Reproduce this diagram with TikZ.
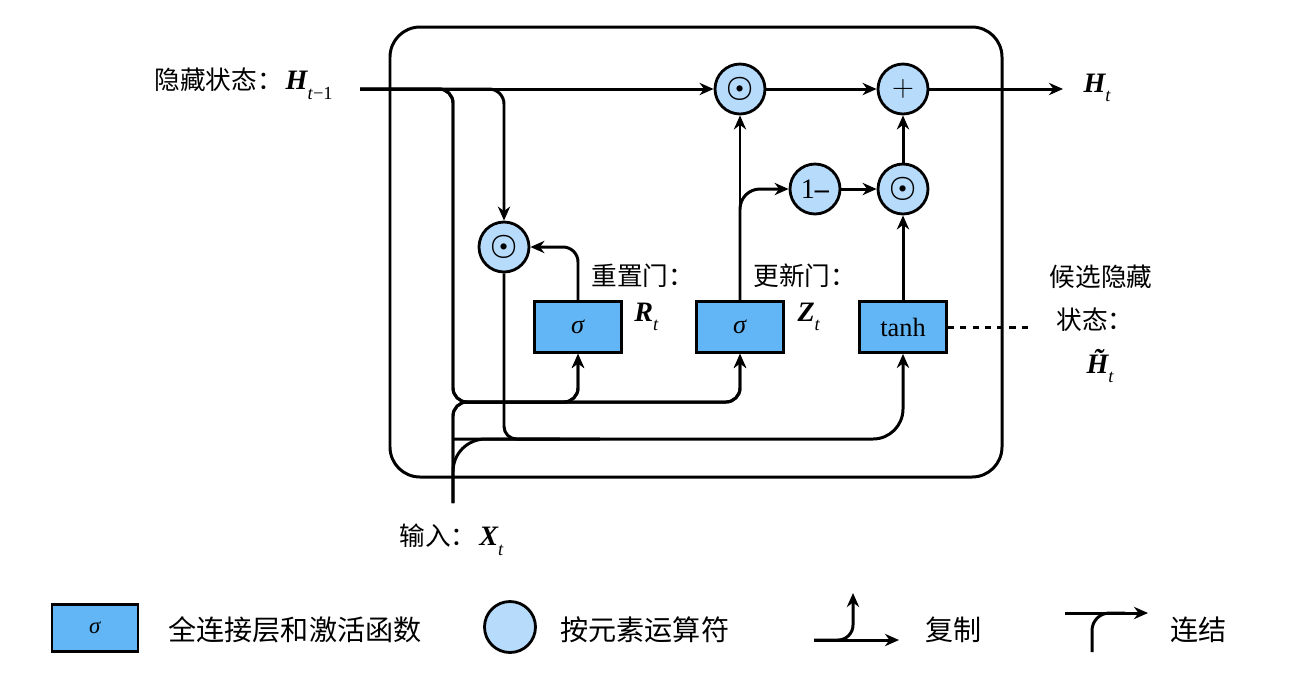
\documentclass[tikz,border=0pt]{standalone}
\usepackage{bm}
\usepackage{fontspec}
\setmainfont{Liberation Serif}
\newfontfamily\cjk{Noto Sans CJK SC}
\usetikzlibrary{arrows.meta,positioning}
\definecolor{capa}{HTML}{62B6F5}
\definecolor{elem}{HTML}{B6DBFB}
\newcommand{\bv}[2]{{\bfseries\itshape #1}\raisebox{-0.75ex}{\fontsize{10.5}{10.5}\selectfont\itshape #2}}
\newcommand{\lab}{\fontsize{14.6}{17}\selectfont\cjk}
\newcommand{\leyenda}{\fontsize{16}{18}\selectfont\cjk}
\tikzset{
  capabox/.style={draw,line width=1.6pt,fill=capa,minimum width=1.74cm,minimum height=1.02cm,
                  inner sep=0pt,font=\fontsize{15}{17}\selectfont},
  elemop/.style={draw,line width=1.6pt,fill=elem,circle,minimum size=1cm,inner sep=0pt,
                 font=\fontsize{16}{18}\selectfont},
  var/.style={font=\fontsize{16}{18}\selectfont}
}

\begin{document}
\begin{tikzpicture}[x=0.02cm,y=-0.02cm,>={Stealth[length=8pt,width=7pt]},line width=1.7pt]
        \useasboundingbox (0,0) rectangle (1289,698);
        % --- celda GRU ---
        \draw[rounded corners=0.6cm] (390,27) rectangle (1002,477);
        % --- operadores por elementos ---
        \node[elemop] (m1)  at (740,89)  {$\bm{\odot}$};
        \node[elemop] (add) at (903,89)  {$+$};
        \node[elemop] (om)  at (815,189) {1\textbf{–}};
        \node[elemop] (m2)  at (903,189) {$\bm{\odot}$};
        \node[elemop] (m0)  at (504,247) {$\bm{\odot}$};
        % --- capas densas ---
        \node[capabox] (rs) at (578,327) {\textit{σ}};
        \node[capabox] (zs) at (740,327) {\textit{σ}};
        \node[capabox] (th) at (903,327) {tanh};
        % --- textos ---
        \node[anchor=west,inner sep=0pt] (hlab) at (153,84) {{\lab 隐藏状态：}\,{\fontsize{16}{18}\selectfont\bv{H}{t\textup{−1}}}};
        \node[var,anchor=west,inner sep=0pt] (hnew) at (1082,88) {\bv{H}{t}};
        \node[anchor=west,inner sep=0pt] (rlab) at (590,276) {\lab 重置门：};
        \node[var,anchor=west,inner sep=0pt] (rvar) at (633,317) {\bv{R}{t}};
        \node[anchor=west,inner sep=0pt] (zlab) at (752,276) {\lab 更新门：};
        \node[var,anchor=west,inner sep=0pt] (zvar) at (796,317) {\bv{Z}{t}};
        \node[inner sep=0pt] (clab1) at (1101,277) {\lab 候选隐藏};
        \node[inner sep=0pt] (clab2) at (1095,320) {\lab 状态：};
        \node[var,inner sep=0pt] (cvar) at (1100,366) {{\bfseries\itshape\~H}\raisebox{-0.75ex}{\fontsize{10.5}{10.5}\selectfont\itshape t}};
        \node[anchor=west,inner sep=0pt] (xlab) at (398,540) {{\lab 输入：}\,{\fontsize{16}{18}\selectfont\bv{X}{t}}};
        % --- puntos de union ---
        \coordinate (hin)  at (360,89);
        \coordinate (hout) at (1063,89);
        \coordinate (xin)  at (453,503);
        \coordinate (jr)   at (453,402);
        \coordinate (jc)   at (453,439);
        \coordinate (jm)   at (504,439);
        \coordinate (jm2)  at (560,439);
        \coordinate (jc2)  at (600,439);
        \coordinate (dend) at (1028,327);
        % --- estado oculto ---
        \draw[->] (hin) -- (m1);
        \draw[->] (m1) -- (add);
        \draw[->] (add) -- (hout);
        \draw[->,rounded corners=0.3cm] (hin) -| (m0);
        \draw[->,rounded corners=0.28cm] (hin) -| (jr) -| (rs);
        \draw[->,rounded corners=0.28cm] (hin) -| (jr) -| (zs);
        % --- entrada ---
        \draw[->,rounded corners=0.28cm] (xin) -- (jr) -| (rs);
        \draw[->,rounded corners=0.28cm] (xin) -- (jr) -| (zs);
        \draw[rounded corners=0.65cm] (xin) -- (jc) -- (jc2);
        \draw[->,rounded corners=0.6cm] (jc) -| (th);
        \draw[rounded corners=0.25cm] (m0) -- (jm) -- (jm2);
        % --- puertas ---
        \draw[->,rounded corners=0.3cm] (rs) |- (m0);
        \draw[->] (zs) -- (m1);
        \draw[->,rounded corners=0.4cm] (zs) |- (om);
        \draw[->] (om) -- (m2);
        \draw[->] (th) -- (m2);
        \draw[->] (m2) -- (add);
        \draw[dash pattern=on 3.5pt off 3.5pt] (th) -- (dend);
        % --- leyenda ---
        \node[capabox,minimum width=1.72cm,minimum height=0.94cm,font=\fontsize{13}{15}\selectfont] (lbox) at (95,628) {\textit{σ}};
        \node[anchor=west,inner sep=0pt] (lboxt) at (167,630) {\leyenda 全连接层和激活函数};
        \node[elemop,minimum size=1.02cm] (ldot) at (510,627) {};
        \node[anchor=west,inner sep=0pt] (ldott) at (559,630) {\leyenda 按元素运算符};
        \coordinate (cpL) at (814,640); \coordinate (cpR) at (899,640); \coordinate (cpU) at (853,593);
        \draw[->] (cpL) -- (cpR);
        \draw[->,rounded corners=0.3cm] (cpL) -| (cpU);
        \node[anchor=west,inner sep=0pt] (cpt) at (924,630) {\leyenda 复制};
        \coordinate (ccL) at (1065,613); \coordinate (ccR) at (1148,613);
        \coordinate (ccB) at (1092,652); \coordinate (ccM) at (1125,613);
        \draw[->] (ccL) -- (ccR);
        \draw[rounded corners=0.35cm] (ccB) |- (ccM);
        \node[anchor=west,inner sep=0pt] (cct) at (1169,630) {\leyenda 连结};
      \end{tikzpicture}
\end{document}
